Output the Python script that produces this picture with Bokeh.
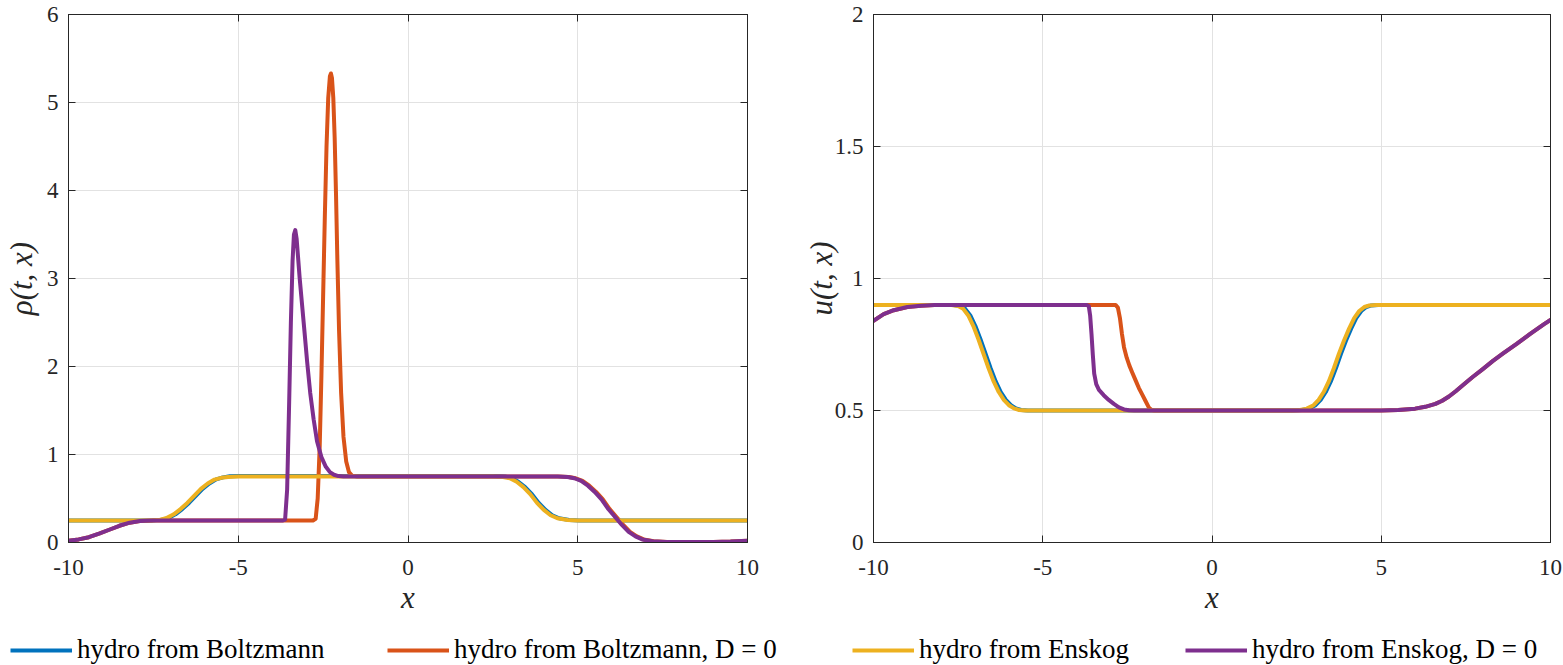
from bokeh.plotting import figure
from bokeh.models import Range1d, FixedTicker, LinearAxis, Legend, LegendItem
from bokeh.layouts import column, row
from bokeh.embed import file_html
from bokeh.resources import INLINE

# ---------------- data ----------------
x_ticks = [-10, -5, 0, 5, 10]
x_tick_labels = ["-10", "-5", "0", "5", "10"]
rho_ticks = [0, 1, 2, 3, 4, 5, 6]
rho_tick_labels = ["0", "1", "2", "3", "4", "5", "6"]
u_ticks = [0, 0.5, 1, 1.5, 2]
u_tick_labels = ["0", "0.5", "1", "1.5", "2"]

series_names = ["hydro from Boltzmann", "hydro from Boltzmann, D = 0",
                "hydro from Enskog", "hydro from Enskog, D = 0"]
series_colors = ["#0072BD", "#D95319", "#EDB120", "#7E2F8E"]

# density rho(t, x)
rho_boltz_x = [-10, -7.55, -7.25, -7.05, -6.85, -6.65, -6.45, -6.25, -6.05, -5.85, -5.65, -5.45, -5.25, -4.95,
               2.55, 2.85, 3.05, 3.25, 3.45, 3.65, 3.85, 4.05, 4.25, 4.45, 4.75, 5.05, 10]
rho_boltz_y = [0.25, 0.25, 0.26, 0.28, 0.32, 0.38, 0.45, 0.53, 0.61, 0.67, 0.717, 0.74, 0.752, 0.755,
               0.755, 0.75, 0.733, 0.69, 0.63, 0.55, 0.45, 0.37, 0.31, 0.275, 0.255, 0.25, 0.25]

rho_boltzD0_x = [-10, -9.7, -9.4, -9.1, -8.8, -8.5, -8.2, -7.9, -7.5, -3.0, -2.8, -2.72, -2.66, -2.6, -2.55,
                 -2.5, -2.45, -2.4, -2.35, -2.3, -2.27, -2.24, -2.2, -2.16, -2.12, -2.08, -2.03, -1.97, -1.9,
                 -1.82, -1.74, -1.65, -1.5, 2.0,
                 4.44, 4.74, 4.94, 5.14, 5.34, 5.54, 5.74, 5.94, 6.14, 6.34, 6.54, 6.74, 6.94, 7.24, 7.64,
                 8.14, 9.0, 9.5, 10]
rho_boltzD0_y = [0.02, 0.035, 0.06, 0.1, 0.145, 0.19, 0.225, 0.245, 0.25, 0.25, 0.25, 0.27, 0.5, 1.1, 1.9,
                 2.8, 3.7, 4.5, 5.05, 5.3, 5.33, 5.28, 5.05, 4.6, 3.95, 3.2, 2.4, 1.7, 1.2,
                 0.92, 0.8, 0.76, 0.75, 0.75,
                 0.75, 0.745, 0.73, 0.7, 0.645, 0.575, 0.49, 0.38, 0.29, 0.2, 0.12, 0.07, 0.035, 0.015, 0.007,
                 0.005, 0.005, 0.01, 0.02]

rho_ensk_x = [-10, -7.6, -7.3, -7.1, -6.9, -6.7, -6.5, -6.3, -6.1, -5.9, -5.7, -5.5, -5.3, -5.0,
              2.5, 2.8, 3.0, 3.2, 3.4, 3.6, 3.8, 4.0, 4.2, 4.4, 4.7, 5.0, 10]
rho_ensk_y = [0.25, 0.25, 0.26, 0.28, 0.32, 0.38, 0.45, 0.53, 0.61, 0.67, 0.715, 0.735, 0.745, 0.75,
              0.75, 0.745, 0.73, 0.69, 0.63, 0.55, 0.45, 0.37, 0.31, 0.275, 0.255, 0.25, 0.25]

rho_enskD0_x = [-10, -9.7, -9.4, -9.1, -8.8, -8.5, -8.2, -7.9, -7.5, -3.7, -3.62, -3.56, -3.5, -3.45, -3.4,
                -3.36, -3.32, -3.28, -3.24, -3.19, -3.12, -3.05, -2.97, -2.88, -2.78, -2.68, -2.55, -2.42,
                -2.3, -2.18, -2.05, -1.9, -1.7, 2.0,
                4.4, 4.7, 4.9, 5.1, 5.3, 5.5, 5.7, 5.9, 6.1, 6.3, 6.5, 6.7, 6.9, 7.2, 7.6, 8.1, 9.0, 9.5, 10]
rho_enskD0_y = [0.02, 0.035, 0.06, 0.1, 0.145, 0.19, 0.225, 0.245, 0.25, 0.25, 0.26, 0.6, 1.6, 2.5, 3.2,
                3.5, 3.55, 3.45, 3.25, 3.0, 2.7, 2.4, 2.05, 1.7, 1.4, 1.15, 0.97, 0.86,
                0.8, 0.77, 0.755, 0.75, 0.75, 0.75,
                0.75, 0.745, 0.73, 0.7, 0.645, 0.575, 0.49, 0.38, 0.29, 0.2, 0.12, 0.07, 0.035, 0.015, 0.007,
                0.005, 0.005, 0.01, 0.02]

# velocity u(t, x)
u_boltz_x = [-10, -7.64, -7.44, -7.29, -7.14, -6.99, -6.84, -6.69, -6.54, -6.39, -6.24, -6.09, -5.94, -5.79,
             -5.64, -5.44,
             2.36, 2.66, 2.86, 3.06, 3.21, 3.36, 3.51, 3.66, 3.81, 3.96, 4.11, 4.26, 4.41, 4.56, 4.71, 4.91, 10]
u_boltz_y = [0.9, 0.9, 0.896, 0.885, 0.86, 0.82, 0.77, 0.715, 0.66, 0.61, 0.57, 0.54, 0.52, 0.508,
             0.502, 0.5,
             0.5, 0.502, 0.507, 0.52, 0.54, 0.57, 0.61, 0.66, 0.715, 0.765, 0.81, 0.85, 0.877, 0.892, 0.898, 0.9, 0.9]

u_boltzD0_x = [-10, -9.7, -9.4, -9.0, -8.6, -8.2, -7.8, -3.0, -2.85, -2.78, -2.72, -2.66, -2.6, -2.52, -2.44,
               -2.36, -2.26, -2.16, -2.06, -1.96, -1.86, -1.78, -1.7, -1.5,
               5.0, 5.5, 6.0, 6.3, 6.6, 6.8, 7.0, 7.2, 7.4, 7.7, 8.0, 8.3, 8.6, 9.0, 9.4, 9.8, 10]
u_boltzD0_y = [0.84, 0.865, 0.88, 0.892, 0.897, 0.9, 0.9, 0.9, 0.9, 0.89, 0.85, 0.79, 0.74, 0.70, 0.67,
               0.645, 0.615, 0.585, 0.56, 0.535, 0.51, 0.502, 0.5, 0.5,
               0.5, 0.502, 0.507, 0.514, 0.525, 0.537, 0.553, 0.573, 0.595, 0.627, 0.657, 0.688, 0.716,
               0.752, 0.79, 0.826, 0.843]

u_ensk_x = [-10, -7.7, -7.5, -7.35, -7.2, -7.05, -6.9, -6.75, -6.6, -6.45, -6.3, -6.15, -6.0, -5.85,
            -5.7, -5.5,
            2.3, 2.6, 2.8, 3.0, 3.15, 3.3, 3.45, 3.6, 3.75, 3.9, 4.05, 4.2, 4.35, 4.5, 4.65, 4.85, 10]
u_ensk_y = [0.9, 0.9, 0.896, 0.885, 0.86, 0.82, 0.77, 0.715, 0.66, 0.61, 0.57, 0.54, 0.52, 0.508,
            0.502, 0.5,
            0.5, 0.502, 0.507, 0.52, 0.54, 0.57, 0.61, 0.66, 0.715, 0.765, 0.81, 0.85, 0.877, 0.892, 0.898, 0.9, 0.9]

u_enskD0_x = [-10, -9.7, -9.4, -9.0, -8.6, -8.2, -7.8, -3.7, -3.64, -3.6, -3.56, -3.52, -3.48, -3.42, -3.34,
              -3.2, -3.05, -2.9, -2.75, -2.6, -2.45, -2.3,
              5.0, 5.5, 6.0, 6.3, 6.6, 6.8, 7.0, 7.2, 7.4, 7.7, 8.0, 8.3, 8.6, 9.0, 9.4, 9.8, 10]
u_enskD0_y = [0.84, 0.865, 0.88, 0.892, 0.897, 0.9, 0.9, 0.9, 0.895, 0.86, 0.79, 0.71, 0.64, 0.6, 0.578,
              0.558, 0.54, 0.525, 0.512, 0.504, 0.501, 0.5,
              0.5, 0.502, 0.507, 0.514, 0.525, 0.537, 0.553, 0.573, 0.595, 0.627, 0.657, 0.688, 0.716,
              0.752, 0.79, 0.826, 0.843]

rho_series = [(rho_boltz_x, rho_boltz_y), (rho_boltzD0_x, rho_boltzD0_y),
              (rho_ensk_x, rho_ensk_y), (rho_enskD0_x, rho_enskD0_y)]
u_series = [(u_boltz_x, u_boltz_y), (u_boltzD0_x, u_boltzD0_y),
            (u_ensk_x, u_ensk_y), (u_enskD0_x, u_enskD0_y)]

# ---------------- styling ----------------
FONT = "Liberation Serif"
AX_COL = "#262626"
GRID_COL = "#e2e2e2"
TICK_SIZE = "23px"
LW = 4
FIG_H = 627
LEG_H = 38


def make_panel(width, border_left, border_right, ylo, yhi, yticks, ylabels, ylabel, ylabel_standoff, series):
    p = figure(width=width, height=FIG_H, x_range=Range1d(-10, 10), y_range=Range1d(ylo, yhi),
               output_backend="svg", toolbar_location=None,
               min_border_left=border_left, min_border_right=border_right,
               min_border_top=14, min_border_bottom=85)
    p.background_fill_color = "white"
    p.border_fill_color = "white"
    p.outline_line_color = AX_COL
    p.outline_line_width = 1

    p.xaxis.ticker = FixedTicker(ticks=x_ticks)
    p.xaxis.major_label_overrides = {t: l for t, l in zip(x_ticks, x_tick_labels)}
    p.yaxis.ticker = FixedTicker(ticks=yticks)
    p.yaxis.major_label_overrides = {t: l for t, l in zip(yticks, ylabels)}
    p.xgrid.ticker = FixedTicker(ticks=x_ticks)
    p.ygrid.ticker = FixedTicker(ticks=yticks)
    p.grid.grid_line_color = GRID_COL
    p.grid.grid_line_width = 1

    for ax in (p.xaxis[0], p.yaxis[0]):
        ax.axis_line_color = AX_COL
        ax.major_tick_line_color = AX_COL
        ax.major_tick_in = 7
        ax.major_tick_out = 0
        ax.minor_tick_line_color = None
        ax.major_label_text_font = FONT
        ax.major_label_text_font_size = TICK_SIZE
        ax.major_label_text_color = AX_COL
        ax.axis_label_text_font = FONT
        ax.axis_label_text_font_size = "31px"
        ax.axis_label_text_font_style = "italic"
        ax.axis_label_text_color = AX_COL

    p.xaxis.major_label_standoff = 17
    p.xaxis.axis_label = "x"
    p.xaxis.axis_label_standoff = 2
    p.yaxis.major_label_standoff = 10
    p.yaxis.axis_label = ylabel
    p.yaxis.axis_label_standoff = ylabel_standoff

    # box ticks on top and right (no labels drawn)
    top = LinearAxis(ticker=FixedTicker(ticks=x_ticks), major_tick_in=7, major_tick_out=0,
                     major_label_text_color=None, major_label_text_font_size="1px", major_label_standoff=0,
                     minor_tick_line_color=None, axis_line_color=AX_COL, major_tick_line_color=AX_COL)
    right = LinearAxis(ticker=FixedTicker(ticks=yticks), major_tick_in=7, major_tick_out=0,
                       major_label_text_color=None, major_label_text_font_size="1px", major_label_standoff=0,
                       minor_tick_line_color=None, axis_line_color=AX_COL, major_tick_line_color=AX_COL)
    p.add_layout(top, "above")
    p.add_layout(right, "right")

    for (xs, ys), c in zip(series, series_colors):
        p.line(xs, ys, line_color=c, line_width=LW, line_join="round", line_cap="round")
    return p


p1 = make_panel(800, 68, 53, 0, 6, rho_ticks, rho_tick_labels, "ρ(t, x)", 5, rho_series)
p2 = make_panel(763, 72, 13, 0, 2, u_ticks, u_tick_labels, "u(t, x)", -7, u_series)

# ---------------- legend strip ----------------
leg = figure(width=1563, height=LEG_H, x_range=Range1d(0, 1), y_range=Range1d(0, 1),
             output_backend="svg", toolbar_location=None, min_border=0)
leg.axis.visible = False
leg.grid.visible = False
leg.outline_line_color = None
legend_x = [10, 387, 852, 1185]
nan = float("nan")
for name, c, lx in zip(series_names, series_colors, legend_x):
    r = leg.line(x=[nan], y=[nan], line_color=c, line_width=4)
    lg = Legend(items=[LegendItem(label=name, renderers=[r])], location=(lx, 0),
                orientation="horizontal", glyph_width=62, glyph_height=28, label_height=28,
                label_standoff=5, padding=0, margin=0, spacing=0,
                border_line_color=None, background_fill_alpha=0,
                label_text_font=FONT, label_text_font_size="27px", label_text_color="#000000")
    leg.add_layout(lg, "center")

layout = column(row(p1, p2), leg)
open("out.html", "w").write(file_html(layout, INLINE))
